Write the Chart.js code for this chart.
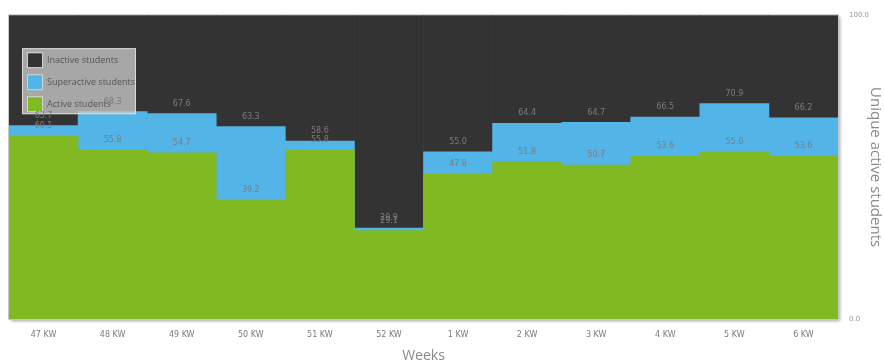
<!DOCTYPE html>
<html>
<head>
<meta charset="utf-8">
<script src="https://cdn.jsdelivr.net/npm/chart.js@4/dist/chart.umd.min.js"></script>
<style>
    html, body { margin: 0; padding: 0; background: #fff; }
    #wrap { width: 884px; height: 364px; }
</style>
</head>
<body>
<div id="wrap"><canvas id="studentsChart"></canvas></div>
<script>
// weekly share of students (percent), bars overlap from 0
const weeks = ['47 KW', '48 KW', '49 KW', '50 KW', '51 KW', '52 KW', '1 KW', '2 KW', '3 KW', '4 KW', '5 KW', '6 KW'];
const inactive = [100, 100, 100, 100, 100, 100, 100, 100, 100, 100, 100, 100];
const superactive = [63.7, 68.3, 67.6, 63.3, 58.6, 29.9, 55.0, 64.4, 64.7, 66.5, 70.9, 66.2];
const active = [60.1, 55.8, 54.7, 39.2, 55.8, 29.1, 47.8, 51.8, 50.7, 53.6, 55.0, 53.6];
const yTicks = [0, 100];

const colors = {
    inactive: '#333333',
    superactive: '#53b5e7',
    active: '#80b922'
};

// white plot background with a soft drop shadow
const plotShadow = {
    id: 'plotShadow',
    beforeDatasetsDraw(chart) {
        const { ctx, chartArea: a } = chart;
        ctx.save();
        ctx.shadowColor = 'rgba(0,0,0,0.35)';
        ctx.shadowBlur = 3;
        ctx.shadowOffsetX = 2;
        ctx.shadowOffsetY = 2;
        ctx.fillStyle = '#fff';
        ctx.fillRect(a.left, a.top, a.right - a.left, a.bottom - a.top);
        ctx.restore();
        ctx.save();
        ctx.strokeStyle = '#c8c8c8';
        ctx.lineWidth = 1;
        ctx.strokeRect(a.left - 0.5, a.top - 0.5, a.right - a.left + 1, a.bottom - a.top + 1);
        ctx.restore();
    }
};

// legend box inside the plot, then value labels on top
const overlay = {
    id: 'overlay',
    afterDraw(chart) {
        const ctx = chart.ctx;
        const a = chart.chartArea;

        // legend
        const lx = a.left + 13, ly = a.top + 33, lw = 114, lh = 66;
        ctx.save();
        ctx.fillStyle = 'rgba(200,200,200,0.78)';
        ctx.fillRect(lx, ly, lw, lh);
        ctx.strokeStyle = 'rgba(225,225,225,0.9)';
        ctx.lineWidth = 1;
        ctx.strokeRect(lx + 0.5, ly + 0.5, lw - 1, lh - 1);
        ctx.font = '9px "Open Sans"';
        ctx.textBaseline = 'middle';
        chart.data.datasets.forEach((ds, i) => {
            const cy = ly + 12 + i * 22;
            ctx.fillStyle = ds.backgroundColor;
            ctx.fillRect(lx + 6, cy - 7, 14, 14);
            ctx.strokeStyle = '#d4d4d4';
            ctx.strokeRect(lx + 5.5, cy - 7.5, 15, 15);
            ctx.fillStyle = '#555555';
            ctx.fillText(ds.label, lx + 25, cy);
        });
        ctx.restore();

        // values above superactive and active bars
        ctx.save();
        ctx.font = '8px "DejaVu Sans"';
        ctx.fillStyle = '#7c7c7c';
        ctx.textAlign = 'center';
        ctx.textBaseline = 'middle';
        [1, 2].forEach(di => {
            const meta = chart.getDatasetMeta(di);
            meta.data.forEach((bar, j) => {
                const v = chart.data.datasets[di].data[j];
                ctx.fillText(v.toFixed(1), bar.x, bar.y - 10);
            });
        });
        ctx.restore();
    }
};

const ctx = document.getElementById('studentsChart').getContext('2d');
const chart = new Chart(ctx, {
    type: 'bar',
    data: {
        labels: weeks,
        datasets: [
            { label: 'Inactive students', data: inactive, backgroundColor: colors.inactive, order: 3 },
            { label: 'Superactive students', data: superactive, backgroundColor: colors.superactive, order: 2 },
            { label: 'Active students', data: active, backgroundColor: colors.active, order: 1 }
        ]
    },
    options: {
        responsive: true,
        maintainAspectRatio: false,
        animation: false,
        layout: { padding: { left: 9, top: 14, right: 0, bottom: 0 } },
        datasets: {
            bar: { barPercentage: 1, categoryPercentage: 1, borderWidth: 0 }
        },
        plugins: {
            legend: { display: false },
            tooltip: { enabled: false }
        },
        scales: {
            x: {
                stacked: true,
                z: 1,
                grid: { color: 'rgba(140,140,140,0.55)', drawTicks: false, offset: true },
                border: { display: false },
                ticks: {
                    color: '#7a7a7a',
                    font: { family: 'DejaVu Sans', size: 8 },
                    padding: 11,
                    maxRotation: 0
                },
                title: {
                    display: true,
                    text: 'Weeks',
                    color: '#8a8a8a',
                    font: { family: 'Open Sans', size: 14 },
                    padding: { top: 4, bottom: 0 }
                },
                afterFit(scale) { scale.height = 45; }
            },
            y: {
                position: 'right',
                stacked: false,
                min: 0,
                max: 100,
                afterBuildTicks(scale) {
                    scale.ticks = yTicks.map(v => ({ value: v }));
                },
                grid: { display: false, drawTicks: false },
                border: { display: false },
                ticks: {
                    color: '#9a9a9a',
                    font: { family: 'DejaVu Sans', size: 7 },
                    padding: 11,
                    callback: v => Number(v).toFixed(1)
                },
                title: {
                    display: true,
                    text: 'Unique active students',
                    color: '#8a8a8a',
                    font: { family: 'Open Sans', size: 15 },
                    padding: { top: 0, bottom: 2 }
                },
                afterFit(scale) { scale.width = 46; }
            }
        }
    },
    plugins: [plotShadow, overlay]
});
</script>
</body>
</html>
